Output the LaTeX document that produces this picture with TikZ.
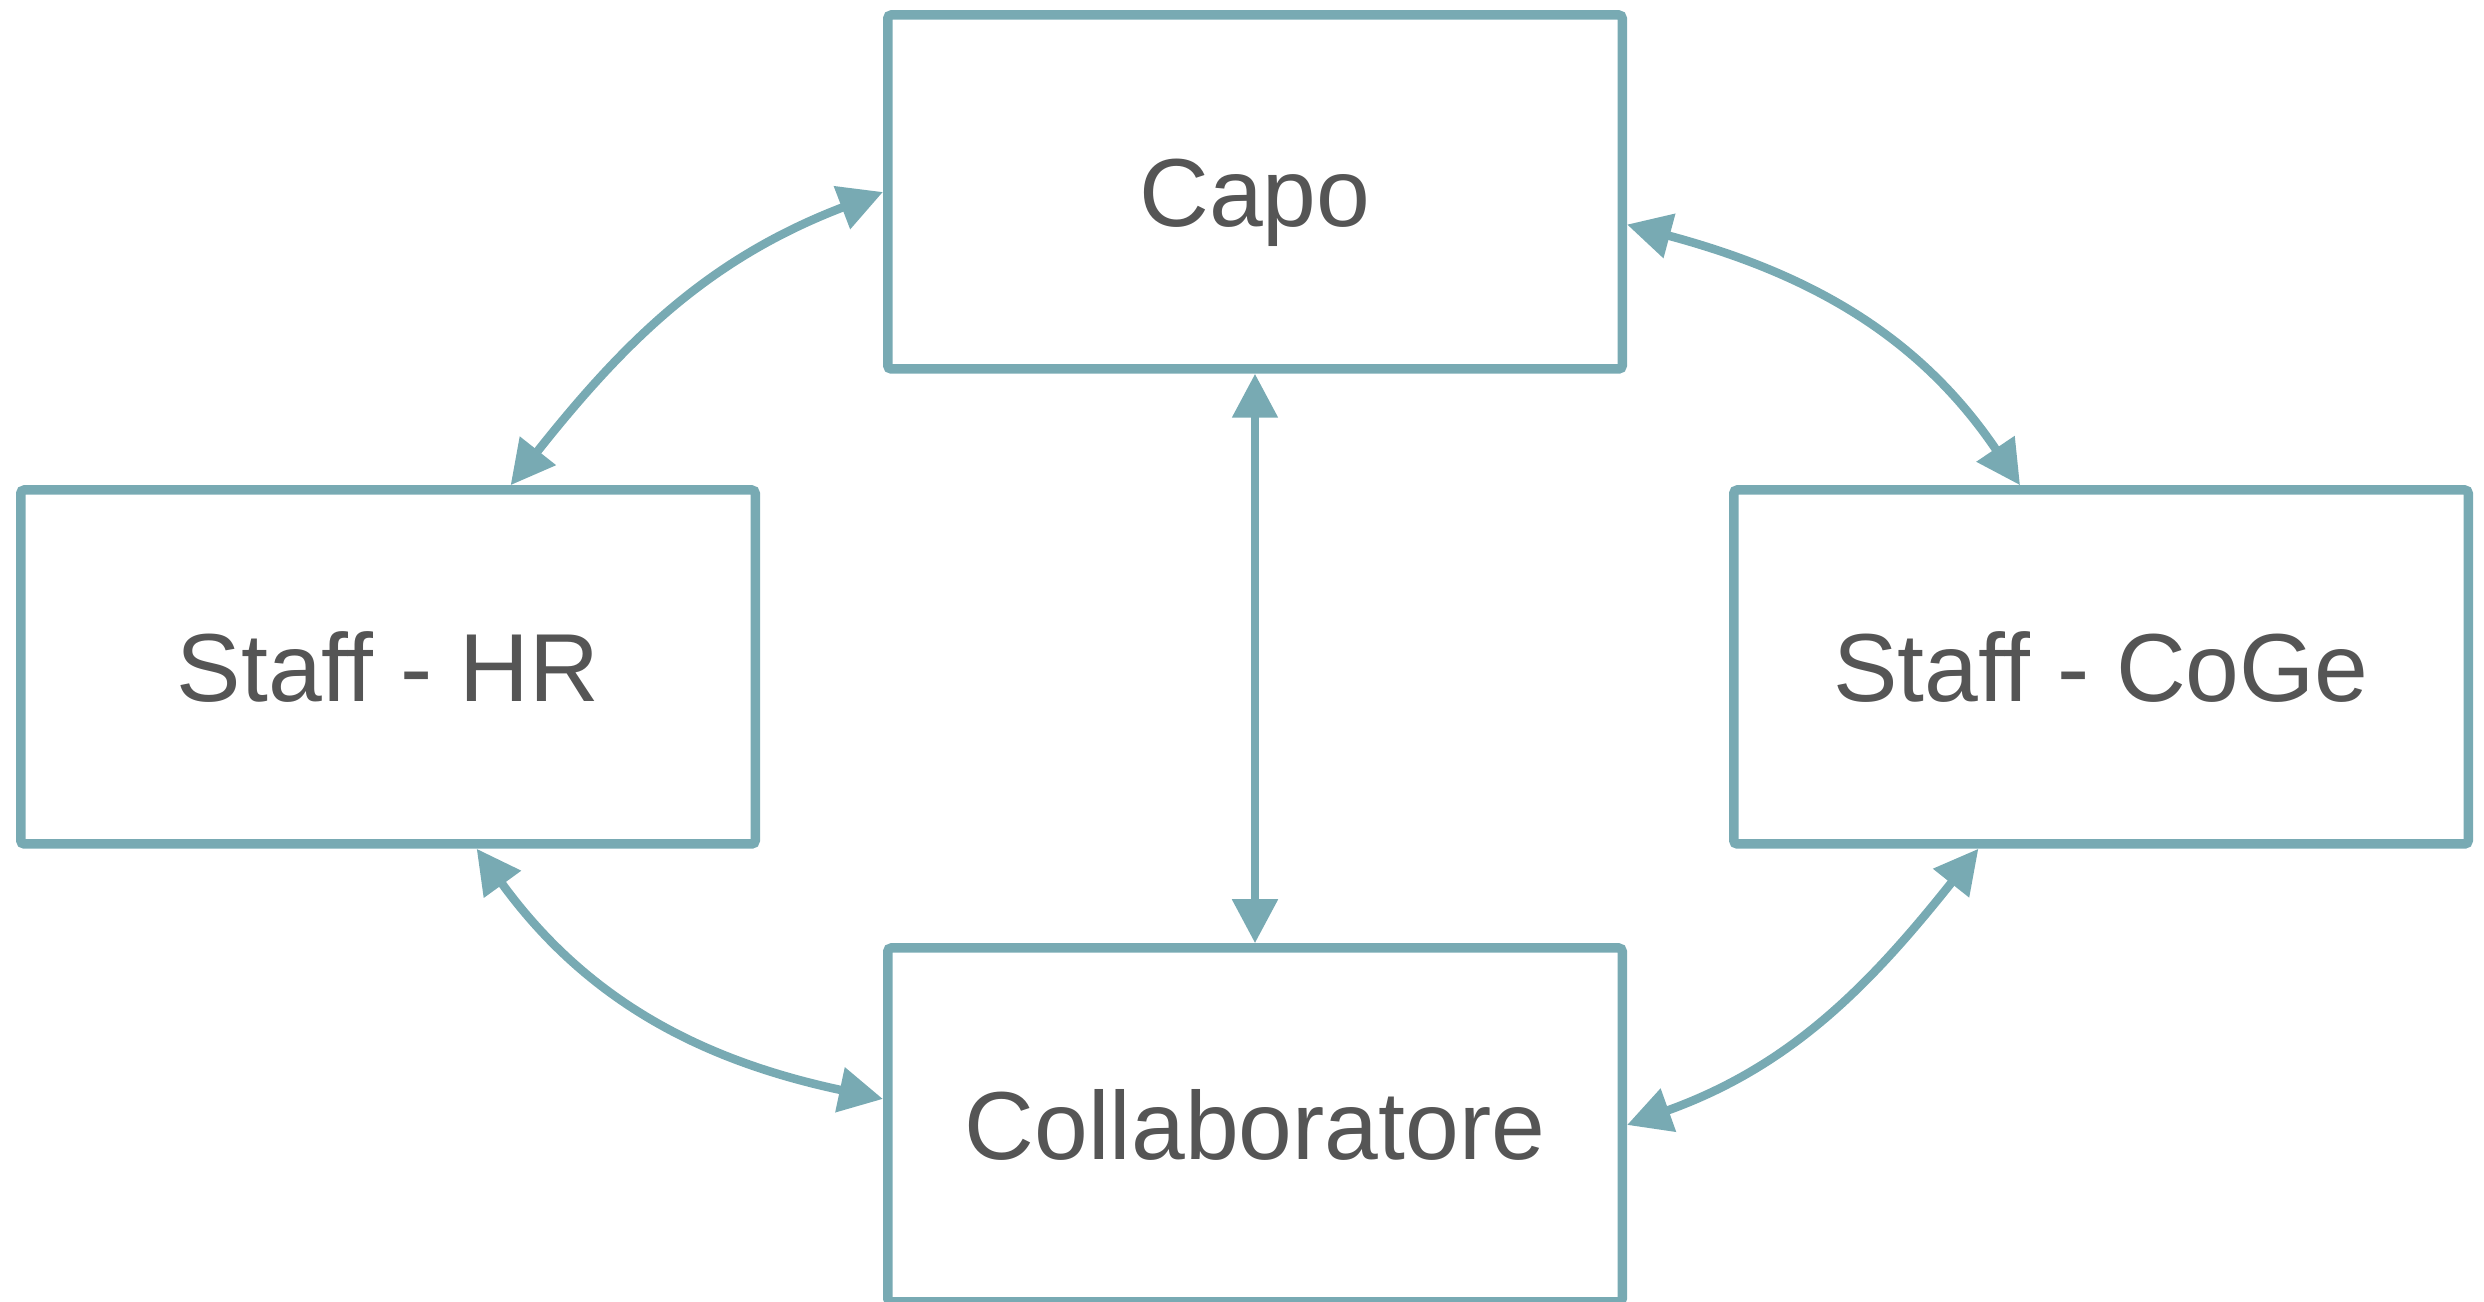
\documentclass[tikz,border=0pt]{standalone}
\usepackage{fontspec}
\setmainfont{Liberation Sans}
\usepackage{xcolor}
\definecolor{78aab3}{HTML}{78aab3}
\definecolor{555555}{HTML}{555555}
\usepackage{tikz}
\usetikzlibrary{arrows.meta}

\begin{document}
\begin{tikzpicture}[
        box/.style={draw=78aab3, line width=0.095cm, rounded corners=1pt,
            minimum width=7.345cm, minimum height=3.54cm, inner sep=0pt,
            text=555555, font=\fontsize{27.5}{33}\selectfont,
            text height=19.7pt, text depth=0pt},
        link/.style={draw=78aab3, line width=0.085cm,
            {Triangle[length=0.44cm, width=0.44cm]}-{Triangle[length=0.44cm, width=0.44cm]}}
    ]
            \useasboundingbox (0, 0) rectangle (24.84, 13.02);

            \node[box] (capo) at (12.55, 11.10) {Capo};
            \node[box] (hr) at (3.88, 6.35) {Staff - HR};
            \node[box] (coge) at (21.01, 6.35) {Staff - CoGe};
            \node[box] (collab) at (12.55, 1.77) {Collaboratore};

            \draw[link] (hr.56) to[out=51.6, in=200.9] (capo.west);
            \draw[link] (coge.114) to[out=124, in=345] (capo.355.5);
            \draw[link] (hr.296) to[out=306, in=168] (collab.176.7);
            \draw[link] (coge.236) to[out=231.5, in=19.7] (collab.east);
            \draw[link] (capo.south) -- (collab.north);
        \end{tikzpicture}
\end{document}
